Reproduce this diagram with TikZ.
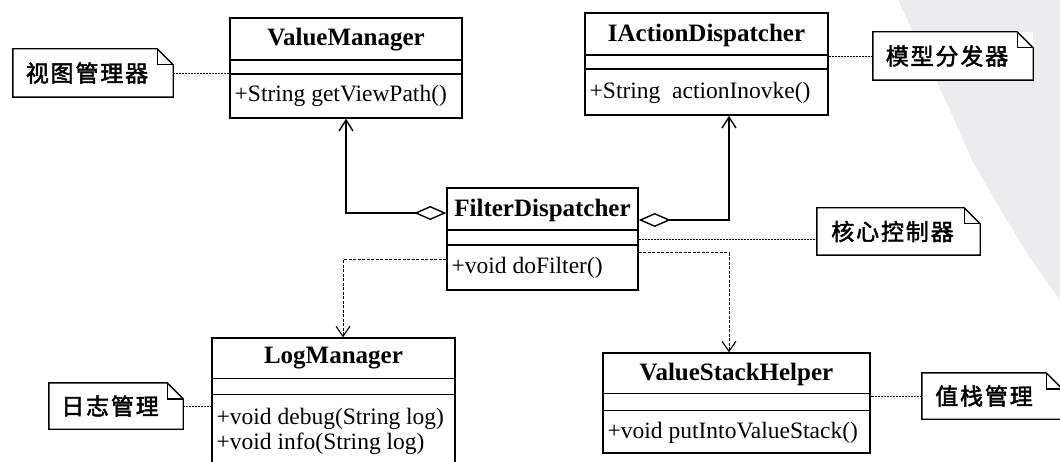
\documentclass[tikz,border=0pt]{standalone}
\usepackage{fontspec}
\setmainfont{Liberation Serif}
\newfontfamily\cjk[FakeBold=2,LetterSpace=8]{Noto Sans CJK SC}
\usetikzlibrary{arrows.meta}
\definecolor{wmark}{RGB}{236,236,238}
\newcommand{\drawnote}[1]{%
  \draw[noteline] (#1.north west) -- ([xshift=-16pt]#1.north east) -- ([yshift=-16pt]#1.north east) -- (#1.south east) -- (#1.south west) -- cycle;
  \draw[noteline] ([xshift=-16pt]#1.north east) -- ([xshift=-16pt,yshift=-16pt]#1.north east) -- ([yshift=-16pt]#1.north east);}
\newcommand{\dividers}[3]{%
  \draw[div] ([yshift=-#2pt]#1.north west) -- ([yshift=-#2pt]#1.north east);
  \draw[div] ([yshift=-#3pt]#1.north west) -- ([yshift=-#3pt]#1.north east);}
\begin{document}
\begin{tikzpicture}[x=1pt,y=-1pt,
  cls/.style={draw,line width=1.5pt,inner sep=0pt,fill=white},
  ttl/.style={font=\fontsize{25}{28}\selectfont\bfseries,inner sep=0pt},
  mth/.style={font=\fontsize{23.5}{26}\selectfont,inner sep=0pt,anchor=west},
  div/.style={line width=1.5pt},
  notebox/.style={inner sep=0pt,fill=white,font=\cjk\fontsize{23}{26}\selectfont},
  noteline/.style={line width=1.4pt,line join=miter},
  notelink/.style={line width=0.9pt,dash pattern=on 2pt off 1pt},
  dep/.style={dash pattern=on 3pt off 1.5pt,line width=1pt,-{Straight Barb[length=10pt,width=14pt,line width=1.1pt]}},
  agg/.style={line width=1.5pt,{Diamond[open,length=32pt,width=14pt,line width=1.4pt]}-{Straight Barb[length=11pt,width=14pt,line width=1.4pt]}}
]
\clip (0,0) rectangle (1060,462);
\fill[white] (0,0) rectangle (1060,462);
% faint watermark at the right
\fill[wmark] (898,0) -- (922,50) -- (950,110) -- (972,160) -- (1002,212) -- (1030,258) -- (1060,300) -- (1060,0) -- cycle;

% ValueManager
\node[cls,minimum width=232pt,minimum height=100pt] (vm) at (346,68) {};
\dividers{vm}{43}{57}
\node[ttl] (vmT) at (346,40) {ValueManager};
\node[mth] (vmM) at (234.5,96) {+String getViewPath()};

% IActionDispatcher
\node[cls,minimum width=243pt,minimum height=102pt] (iad) at (706.5,64) {};
\dividers{iad}{43}{57}
\node[ttl] (iadT) at (706.5,35) {IActionDispatcher};
\node[mth] (iadM) at (589.5,93) {+String~~actionInovke()};

% FilterDispatcher
\node[cls,minimum width=191pt,minimum height=102pt] (fd) at (542.5,239) {};
\dividers{fd}{43}{58}
\node[ttl] (fdT) at (542.5,210) {FilterDispatcher};
\node[mth] (fdM) at (451.5,268) {+void doFilter()};

% LogManager
\node[cls,minimum width=243pt,minimum height=142pt] (lm) at (333.5,409) {};
\dividers{lm}{41}{57}
\node[ttl] (lmT) at (333.5,358) {LogManager};
\node[mth] (lmM1) at (216.5,419) {+void debug(String log)};
\node[mth] (lmM2) at (216.5,444) {+void info(String log)};

% ValueStackHelper
\node[cls,minimum width=267pt,minimum height=100pt] (vsh) at (736.5,403) {};
\dividers{vsh}{41}{58}
\node[ttl] (vshT) at (736.5,374) {ValueStackHelper};
\node[mth] (vshM) at (607.5,433) {+void putIntoValueStack()};

% Notes
\node[notebox,minimum width=160pt,minimum height=48pt] (n1) at (93,73) {视图管理器\kern12pt};
\drawnote{n1}
\node[notebox,minimum width=160pt,minimum height=48pt] (n2) at (953,56) {模型分发器\kern12pt};
\drawnote{n2}
\node[notebox,minimum width=163pt,minimum height=47pt] (n3) at (898.5,231.5) {核心控制器\kern12pt};
\drawnote{n3}
\node[notebox,minimum width=134pt,minimum height=46pt] (n4) at (116,406) {日志管理\kern12pt};
\drawnote{n4}
\node[notebox,minimum width=140pt,minimum height=46pt] (n5) at (992,396) {值栈管理\kern16pt};
\drawnote{n5}

% Connectors
\draw[agg] ([yshift=26pt]fd.west) -| (vm.south);
\draw[agg] ([yshift=19pt]fd.east) -| ([xshift=22.5pt]iad.south);
\draw[dep] ([yshift=-14pt]fd.east) -| ([xshift=-7.5pt]vsh.north);
\draw[dep] ([yshift=-21pt]fd.west) -| ([xshift=9.5pt]lm.north);

% Note links
\draw[notelink] (n1.east) -- (n1.east -| vm.west);
\draw[notelink] (n2.west) -- (n2.west -| iad.east);
\draw[notelink] (fd.east) -- (fd.east -| n3.west);
\draw[notelink] (n4.east) -- (n4.east -| lm.west);
\draw[notelink] (n5.west) -- (n5.west -| vsh.east);
\end{tikzpicture}
\end{document}
